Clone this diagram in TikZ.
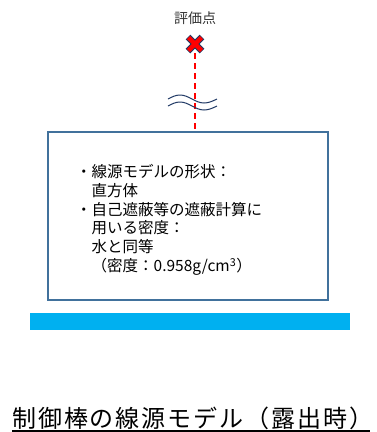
\documentclass[tikz,border=0pt]{standalone}
\usepackage{fontspec}
\newfontfamily\jp{Noto Sans CJK JP}
\newfontfamily\jptitle{Noto Sans CJK JP}[LetterSpace=8]
\definecolor{boxblue}{HTML}{41719C}
\definecolor{floorcyan}{HTML}{00B0F0}
\definecolor{wavenavy}{HTML}{1F3864}
\tikzset{
  srcbox/.style={draw=boxblue,line width=2pt,minimum width=280pt,minimum height=168pt},
  floorbar/.style={fill=floorcyan,minimum width=320pt,minimum height=17pt,inner sep=0pt},
  wave/.style={draw=wavenavy,line width=1pt}
}
\begin{document}
\begin{tikzpicture}[x=1pt,y=-1pt]
      \useasboundingbox (0,0) rectangle (377,432);
      \node[font=\jp\fontsize{14}{16}\selectfont,text=black!80] (point) at (195,18) {評価点};
      \coordinate (mark) at (195,44);
      \node[srcbox] (box) at (188,216) {};
      \node[floorbar] (floor) at (190,321.5) {};
      \draw[red,line width=1.6pt,dash pattern=on 6pt off 4pt] (mark) ++(0,9) -- (box.north -| mark);
      \draw[wavenavy,line width=6.5pt] (mark) ++(-7,-7) -- ++(14,14) (mark) ++(7,-7) -- ++(-14,14);
      \draw[red,line width=4.5pt] (mark) ++(-6.5,-6.5) -- ++(13,13) (mark) ++(6.5,-6.5) -- ++(-13,13);
      \draw[wave] (168,99) sin (180,95) cos (192,99) sin (204,103) cos (217,99);
      \draw[wave] (168,106) sin (180,102) cos (192,106) sin (204,110) cos (217,106);
      \node[anchor=north west,inner sep=0pt,align=left,font=\jp\fontsize{15.5}{18.8}\selectfont] (desc) at (76,164)
        {・線源モデルの形状：\\　直方体\\・自己遮蔽等の遮蔽計算に\\　用いる密度：\\　水と同等\\　（密度：0.958g/cm\textsuperscript{3}）};
      \node[anchor=base west,inner sep=0pt,font=\jptitle\fontsize{24}{28}\selectfont] (title) at (12,427) {制御棒の線源モデル（露出時）};
      \draw[line width=1.5pt] (title.base west) ++(0,4) -- ++(358,0);
\end{tikzpicture}
\end{document}
